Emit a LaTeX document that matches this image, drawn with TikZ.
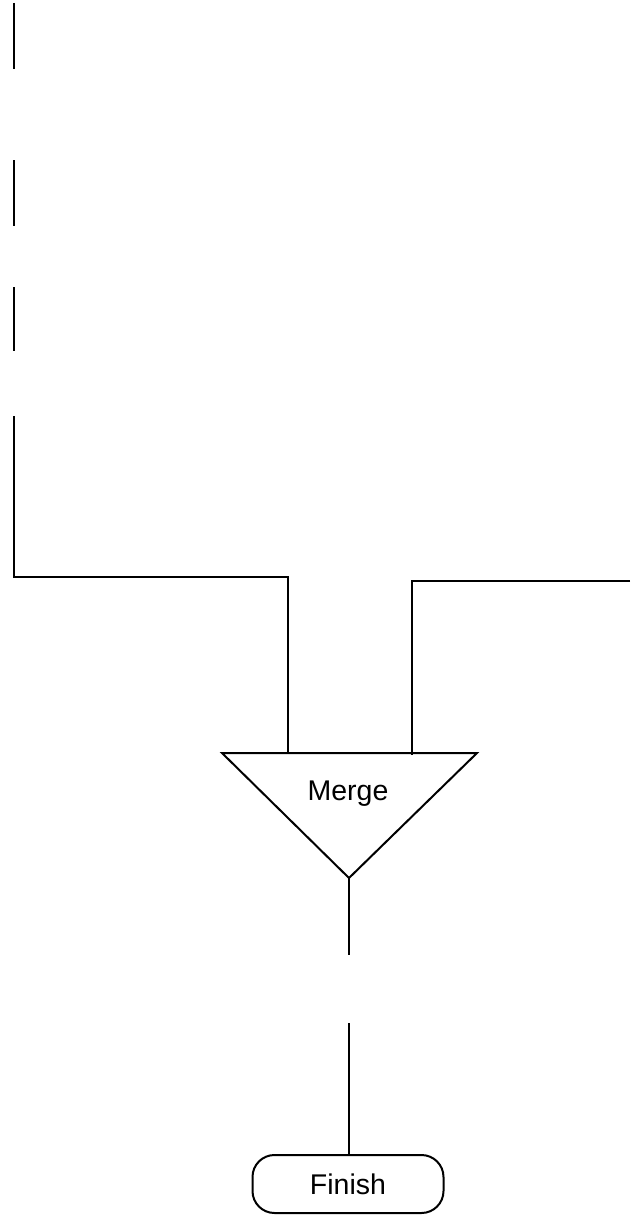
\documentclass[tikz,border=0pt]{standalone}
\usepackage{fontspec}
\setmainfont{Liberation Sans}
\begin{document}
\begin{tikzpicture}[x=1pt,y=-1pt,
  wire/.style={draw=black, line width=2pt, line join=miter},
  label/.style={font=\fontsize{28.5}{32}\selectfont, inner sep=0pt},
  terminal/.style={draw=black, line width=2pt, rounded corners=22pt,
    minimum width=191pt, minimum height=58pt, inner sep=0pt,
    font=\fontsize{28.5}{32}\selectfont}]
\useasboundingbox[fill=white] (0,0) rectangle (630,1215);
% merge triangle
\coordinate (tl) at (222,753);
\coordinate (tr) at (477,753);
\coordinate (tb) at (349,878);
\draw[wire] (tl) -- (tr) -- (tb) -- cycle;
\node[label] (merge) at (348,794) {Merge};
% finish terminal
\node[terminal] (finish) at (348,1184) {Finish};
% left incoming pieces
\coordinate (a1) at (14,3);   \coordinate (a2) at (14,69);
\coordinate (b1) at (14,160); \coordinate (b2) at (14,226);
\coordinate (c1) at (14,287); \coordinate (c2) at (14,351);
\coordinate (d1) at (14,416); \coordinate (d2) at (14,577);
\coordinate (d3) at (288,577); \coordinate (d4) at (288,753);
\draw[wire] (a1) -- (a2);
\draw[wire] (b1) -- (b2);
\draw[wire] (c1) -- (c2);
\draw[wire] (d1) -- (d2) -- (d3) -- (d4);
% right incoming piece
\coordinate (e1) at (630,581); \coordinate (e2) at (412,581);
\coordinate (e3) at (412,755);
\draw[wire] (e1) -- (e2) -- (e3);
% outgoing pieces
\coordinate (f1) at (349,955);
\coordinate (g1) at (349,1023);
\draw[wire] (tb) -- (f1);
\draw[wire] (g1) -- (g1 |- finish.north);
\end{tikzpicture}
\end{document}
